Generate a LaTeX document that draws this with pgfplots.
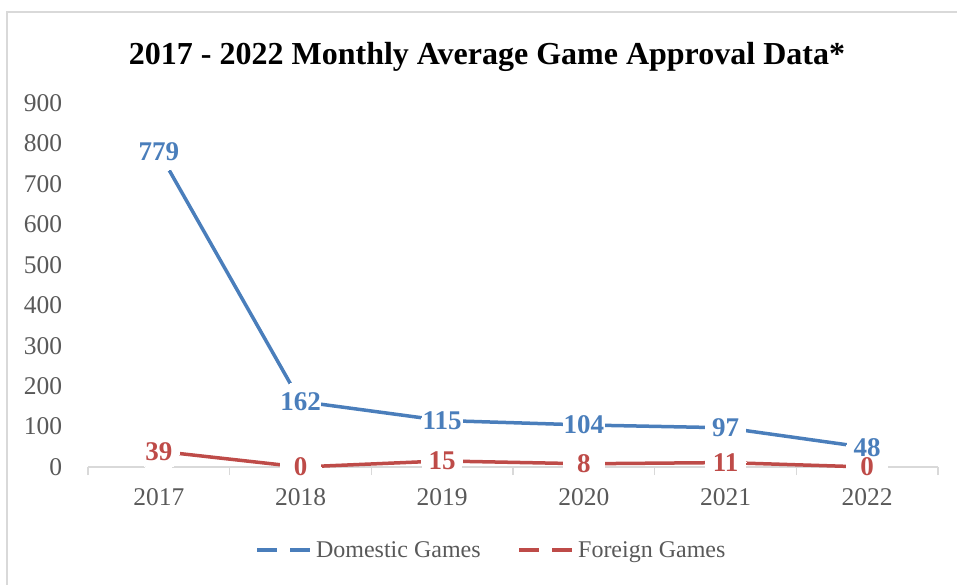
\documentclass[border=0pt]{standalone}
\usepackage{fontspec}
\setmainfont{Liberation Serif}
\usepackage{pgfplots}
\pgfplotsset{compat=1.18}
\definecolor{dom}{HTML}{4A7EBB}
\definecolor{forn}{HTML}{BE4B48}
\definecolor{txt}{HTML}{595959}
\definecolor{frame}{HTML}{D9D9D9}

\begin{document}
\begin{tikzpicture}
\path[use as bounding box] (0pt,0pt) rectangle (957pt,-584pt);
\draw[frame, line width=1.5pt] (7pt,-600pt) -- (7pt,-12pt) -- (980pt,-12pt);
\node[font=\fontsize{32}{38}\selectfont\bfseries] at (487pt,-57pt)
  {2017 - 2022 Monthly Average Game Approval Data*};
\begin{axis}[
    at={(88pt,-467pt)}, anchor=south west,
    scale only axis, width=850pt, height=364pt,
    xmin=-0.5, xmax=5.5, ymin=0, ymax=900,
    clip=false,
    /pgf/number format/assume math mode=true,
    axis x line*=bottom, axis y line*=left,
    x axis line style={draw=frame, line width=1.5pt, -},
    y axis line style={draw=none},
    xtick={0,...,5},
    xticklabels={2017,2018,2019,2020,2021,2022},
    major x tick style={draw=none},
    minor xtick={-0.5,0.5,...,5.5},
    minor x tick style={draw=frame, line width=1.5pt},
    minor tick length=8pt, tick align=outside,
    ytick={0,100,...,900},
    major y tick style={draw=none},
    tick label style={font=\fontsize{25.5}{30}\selectfont, text=txt},
    yticklabel style={xshift=-18pt},
    xticklabel style={yshift=-14pt},
    legend style={at={(0.4747,-0.228)}, anchor=center, draw=none, fill=none,
        font=\fontsize{24}{28}\selectfont, text=txt, legend columns=2,
        /tikz/every even column/.append style={column sep=35pt}},
    legend image code/.code={\draw[#1, dash pattern=on 20pt off 13pt] (0pt,0pt) -- (55pt,0pt);},
]
\addplot[dom, line width=3.5pt, mark=none] coordinates {
    (0,779) (1,162) (2,115) (3,104) (4,97) (5,48)
};
\addlegendentry{Domestic Games}
\addplot[forn, line width=3.5pt, mark=none] coordinates {
    (0,39) (1,0) (2,15) (3,8) (4,11) (5,0)
};
\addlegendentry{Foreign Games}
% white discs behind the data labels cut the lines short
\addplot[only marks, mark=*, mark size=20.5pt, mark options={draw=white, fill=white, line width=0pt}, forget plot] coordinates {
    (0,779) (1,162) (2,115) (3,104) (4,97) (5,48)
};
\addplot[only marks, mark=*, mark size=20.5pt, mark options={draw=white, fill=white, line width=0pt}, forget plot] coordinates {
    (0,39) (1,0) (2,15) (3,8) (4,11) (5,0)
};
% data labels
\addplot[draw=none, mark=none, forget plot, nodes near coords,
    every node near coord/.append style={font=\fontsize{27}{32}\selectfont\bfseries,
        text=dom, anchor=center}] coordinates {
    (0,779) (1,162) (2,115) (3,104) (4,97) (5,48)
};
\addplot[draw=none, mark=none, forget plot, nodes near coords,
    every node near coord/.append style={font=\fontsize{27}{32}\selectfont\bfseries,
        text=forn, anchor=center}] coordinates {
    (0,39) (1,0) (2,15) (3,8) (4,11) (5,0)
};
\end{axis}
\end{tikzpicture}
\end{document}
